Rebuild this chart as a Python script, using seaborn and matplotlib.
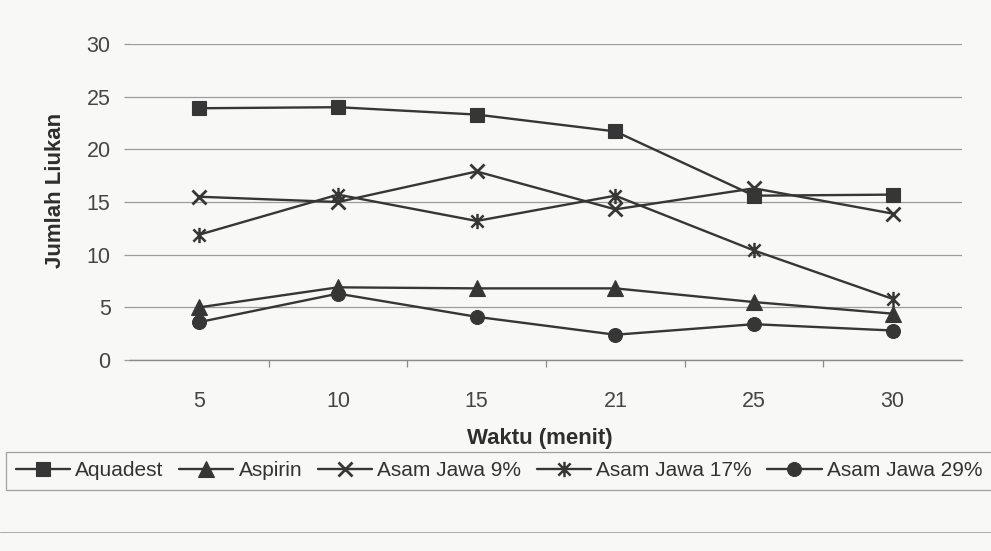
import matplotlib
matplotlib.use("Agg")
import matplotlib.pyplot as plt
from matplotlib.path import Path
from matplotlib.lines import Line2D
import seaborn as sns
import pandas as pd

# ---- data ----
times = ["5", "10", "15", "21", "25", "30"]
aquadest = [23.9, 24.0, 23.3, 21.7, 15.6, 15.7]
aspirin = [5.0, 6.9, 6.8, 6.8, 5.5, 4.4]
asam_jawa_9 = [15.5, 15.0, 17.9, 14.3, 16.3, 13.9]
asam_jawa_17 = [11.9, 15.7, 13.2, 15.6, 10.4, 5.8]
asam_jawa_29 = [3.6, 6.3, 4.1, 2.4, 3.4, 2.8]
series_names = ["Aquadest", "Aspirin", "Asam Jawa 9%", "Asam Jawa 17%", "Asam Jawa 29%"]
y_ticks = [0, 5, 10, 15, 20, 25, 30]

series_values = [aquadest, aspirin, asam_jawa_9, asam_jawa_17, asam_jawa_29]

# Excel-like "star" marker: X with a vertical bar
star_path = Path(
    [(-1, -1), (1, 1), (-1, 1), (1, -1), (0, -1.25), (0, 1.25)],
    [Path.MOVETO, Path.LINETO, Path.MOVETO, Path.LINETO, Path.MOVETO, Path.LINETO],
)
marker_styles = {
    "Aquadest": dict(marker="s", markersize=10.5),
    "Aspirin": dict(marker="^", markersize=11),
    "Asam Jawa 9%": dict(marker="x", markersize=10, markeredgewidth=2.0),
    "Asam Jawa 17%": dict(marker=star_path, markersize=11, markeredgewidth=1.8),
    "Asam Jawa 29%": dict(marker="o", markersize=10),
}

sns.set_theme(style="white")
plt.rcParams["font.family"] = ["Liberation Sans", "DejaVu Sans"]

bg = "#f8f8f6"
ink = "#363636"
grid_c = "#9c9c9c"

fig = plt.figure(figsize=(9.91, 5.51), dpi=100, facecolor=bg)
ax = fig.add_axes([130 / 991, 1 - 360 / 551, 832 / 991, 316 / 551])
ax.set_facecolor(bg)

for name, vals in zip(series_names, series_values):
    df = pd.DataFrame({"Waktu": times, "Jumlah": vals})
    st = marker_styles[name]
    sns.lineplot(
        data=df, x="Waktu", y="Jumlah", ax=ax, color=ink, linewidth=1.7,
        label=name, markeredgecolor=ink, markerfacecolor=ink, sort=False,
        **{k: v for k, v in st.items()},
        **({} if "markeredgewidth" in st else {"markeredgewidth": 0.8}),
    )

ax.set_ylim(0, 30)
ax.set_yticks(y_ticks)
ax.set_xlim(-0.5, len(times) - 0.5)
ax.yaxis.grid(True, color=grid_c, linewidth=0.9)
ax.xaxis.grid(False)
for s in ["left", "right", "top"]:
    ax.spines[s].set_visible(False)
ax.spines["bottom"].set_color("#8a8a8a")
ax.spines["bottom"].set_linewidth(1.0)

# category tick marks between categories (Excel style)
ax.set_xticks([i + 0.5 for i in range(0, len(times) - 1)], minor=True)
ax.tick_params(axis="x", which="minor", length=5, width=0.9, color="#8a8a8a", direction="out", bottom=True)
ax.tick_params(axis="x", which="major", length=0, pad=22, labelsize=15.5, labelcolor="#454545")
ax.tick_params(axis="y", which="major", length=4, width=0.9, color=grid_c, pad=10,
               labelsize=15.5, labelcolor="#454545", left=True)

ax.set_xlabel("Waktu (menit)", fontsize=16, fontweight="bold", color="#2e2e2e")
ax.xaxis.set_label_coords((540 - 130) / 832, -(428 - 360) / 316)
ax.set_ylabel("Jumlah Liukan", fontsize=16, fontweight="bold", color="#2e2e2e")
ax.yaxis.set_label_coords(-(130 - 66) / 832, (360 - 190) / 316)

handles, labels = ax.get_legend_handles_labels()
ax.get_legend().remove()
leg = fig.legend(
    handles, labels, ncol=5, loc="center", bbox_to_anchor=(499 / 991, 1 - 471 / 551),
    fontsize=15, frameon=True, fancybox=False, edgecolor="#8a8a8a", facecolor=bg,
    handlelength=2.6, handletextpad=0.25, columnspacing=0.75, borderpad=0.45,
)
leg.get_frame().set_linewidth(0.9)
for t in leg.get_texts():
    t.set_color("#333333")

# faint outer chart-area line at the bottom of the scan
fig.add_artist(Line2D([0.0, 1.0], [1 - 532 / 551, 1 - 532 / 551], transform=fig.transFigure,
                      color="#b0b0b0", linewidth=0.8))

fig.savefig("out.png", dpi=100, facecolor=bg)
